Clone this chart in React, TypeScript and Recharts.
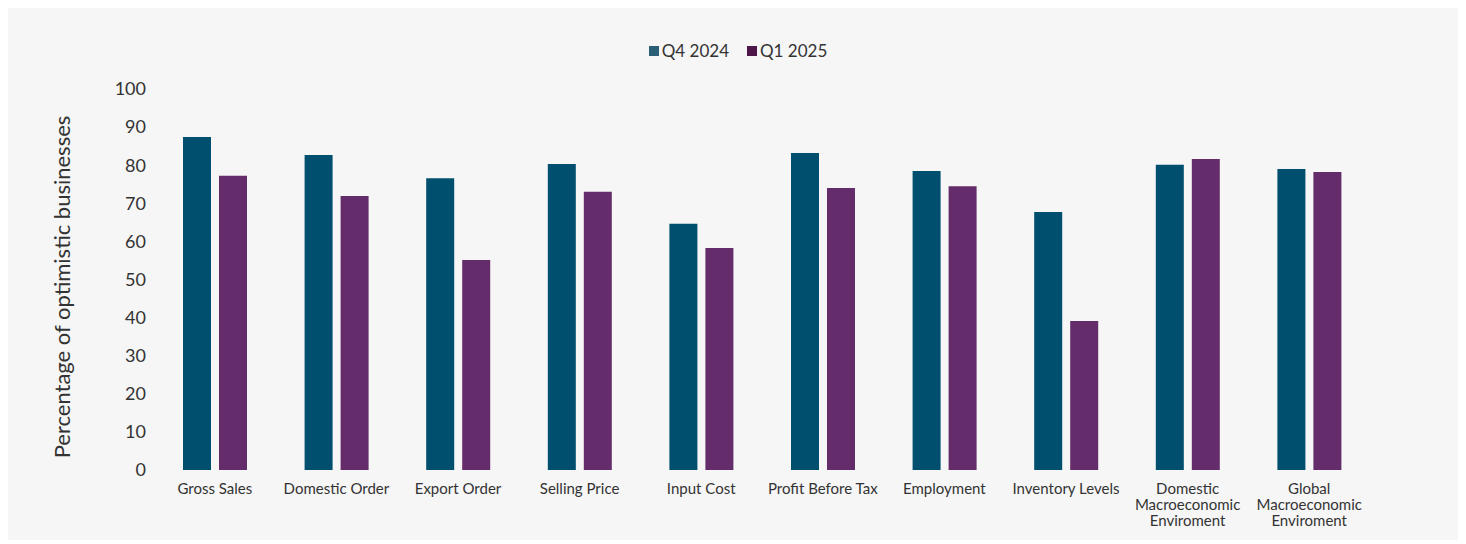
import React from "react";
import { BarChart, Bar, XAxis, YAxis, Legend } from "recharts";

const CATEGORIES = [
  "Gross Sales",
  "Domestic Order",
  "Export Order",
  "Selling Price",
  "Input Cost",
  "Profit Before Tax",
  "Employment",
  "Inventory Levels",
  "Domestic\nMacroeconomic\nEnviroment",
  "Global\nMacroeconomic\nEnviroment",
];

const Q4_2024 = [87.4, 82.7, 76.6, 80.3, 64.6, 83.2, 78.5, 67.7, 80.1, 79.0];
const Q1_2025 = [77.2, 71.9, 55.1, 73.0, 58.3, 74.0, 74.5, 39.1, 81.6, 78.2];

const Y_TICKS = [0, 10, 20, 30, 40, 50, 60, 70, 80, 90, 100];

const FONT = "Lato, 'Open Sans', sans-serif";
const TEXT = "#333333";

const data = CATEGORIES.map((name, i) => ({
  name,
  q4: Q4_2024[i],
  q1: Q1_2025[i],
}));

const CategoryTick = (props: any) => {
  const { x, y, payload } = props;
  const lines = String(payload.value).split("\n");
  return (
    <text x={x} y={y + 16} textAnchor="middle" fill={TEXT} fontSize={15} fontFamily={FONT}>
      {lines.map((line, i) => (
        <tspan key={i} x={x} dy={i === 0 ? 0 : 16}>
          {line}
        </tspan>
      ))}
    </text>
  );
};

const YLabel = () => (
  <text
    x={53}
    y={279}
    transform="rotate(-90, 53, 279)"
    textAnchor="middle"
    dominantBaseline="central"
    fill={TEXT}
    fontSize={22}
    fontFamily={FONT}
  >
    Percentage of optimistic businesses
  </text>
);

const LegendContent = () => (
  <div
    style={{
      display: "flex",
      justifyContent: "center",
      gap: 18,
      fontFamily: FONT,
      fontSize: 17,
      color: TEXT,
      paddingLeft: 8,
    }}
  >
    {[
      { label: "Q4 2024", color: "#2b5f78" },
      { label: "Q1 2025", color: "#4f1649" },
    ].map((item) => (
      <div key={item.label} style={{ display: "flex", alignItems: "center", gap: 3 }}>
        <span style={{ width: 10, height: 10, background: item.color, display: "inline-block" }} />
        <span>{item.label}</span>
      </div>
    ))}
  </div>
);

export default function App() {
  return (
    <div style={{ width: 1452, height: 532, background: "#f6f6f6" }}>
      <BarChart
        width={1452}
        height={532}
        data={data}
        margin={{ top: 81, right: 90, bottom: 10, left: 0 }}
        barGap={8}
      >
        <XAxis
          dataKey="name"
          axisLine={false}
          tickLine={false}
          height={60}
          interval={0}
          tick={<CategoryTick />}
        />
        <YAxis
          width={146}
          domain={[0, 100]}
          ticks={Y_TICKS}
          axisLine={false}
          tickLine={false}
          tick={{ fill: TEXT, fontSize: 18, fontFamily: FONT }}
          label={<YLabel />}
        />
        <Legend
          verticalAlign="middle"
          layout="horizontal"
          wrapperStyle={{ top: 32, left: 0, width: 1452 }}
          content={<LegendContent />}
        />
        <Bar dataKey="q4" name="Q4 2024" fill="#004f6e" barSize={28} isAnimationActive={false} />
        <Bar dataKey="q1" name="Q1 2025" fill="#642c6a" barSize={28} isAnimationActive={false} />
      </BarChart>
    </div>
  );
}
